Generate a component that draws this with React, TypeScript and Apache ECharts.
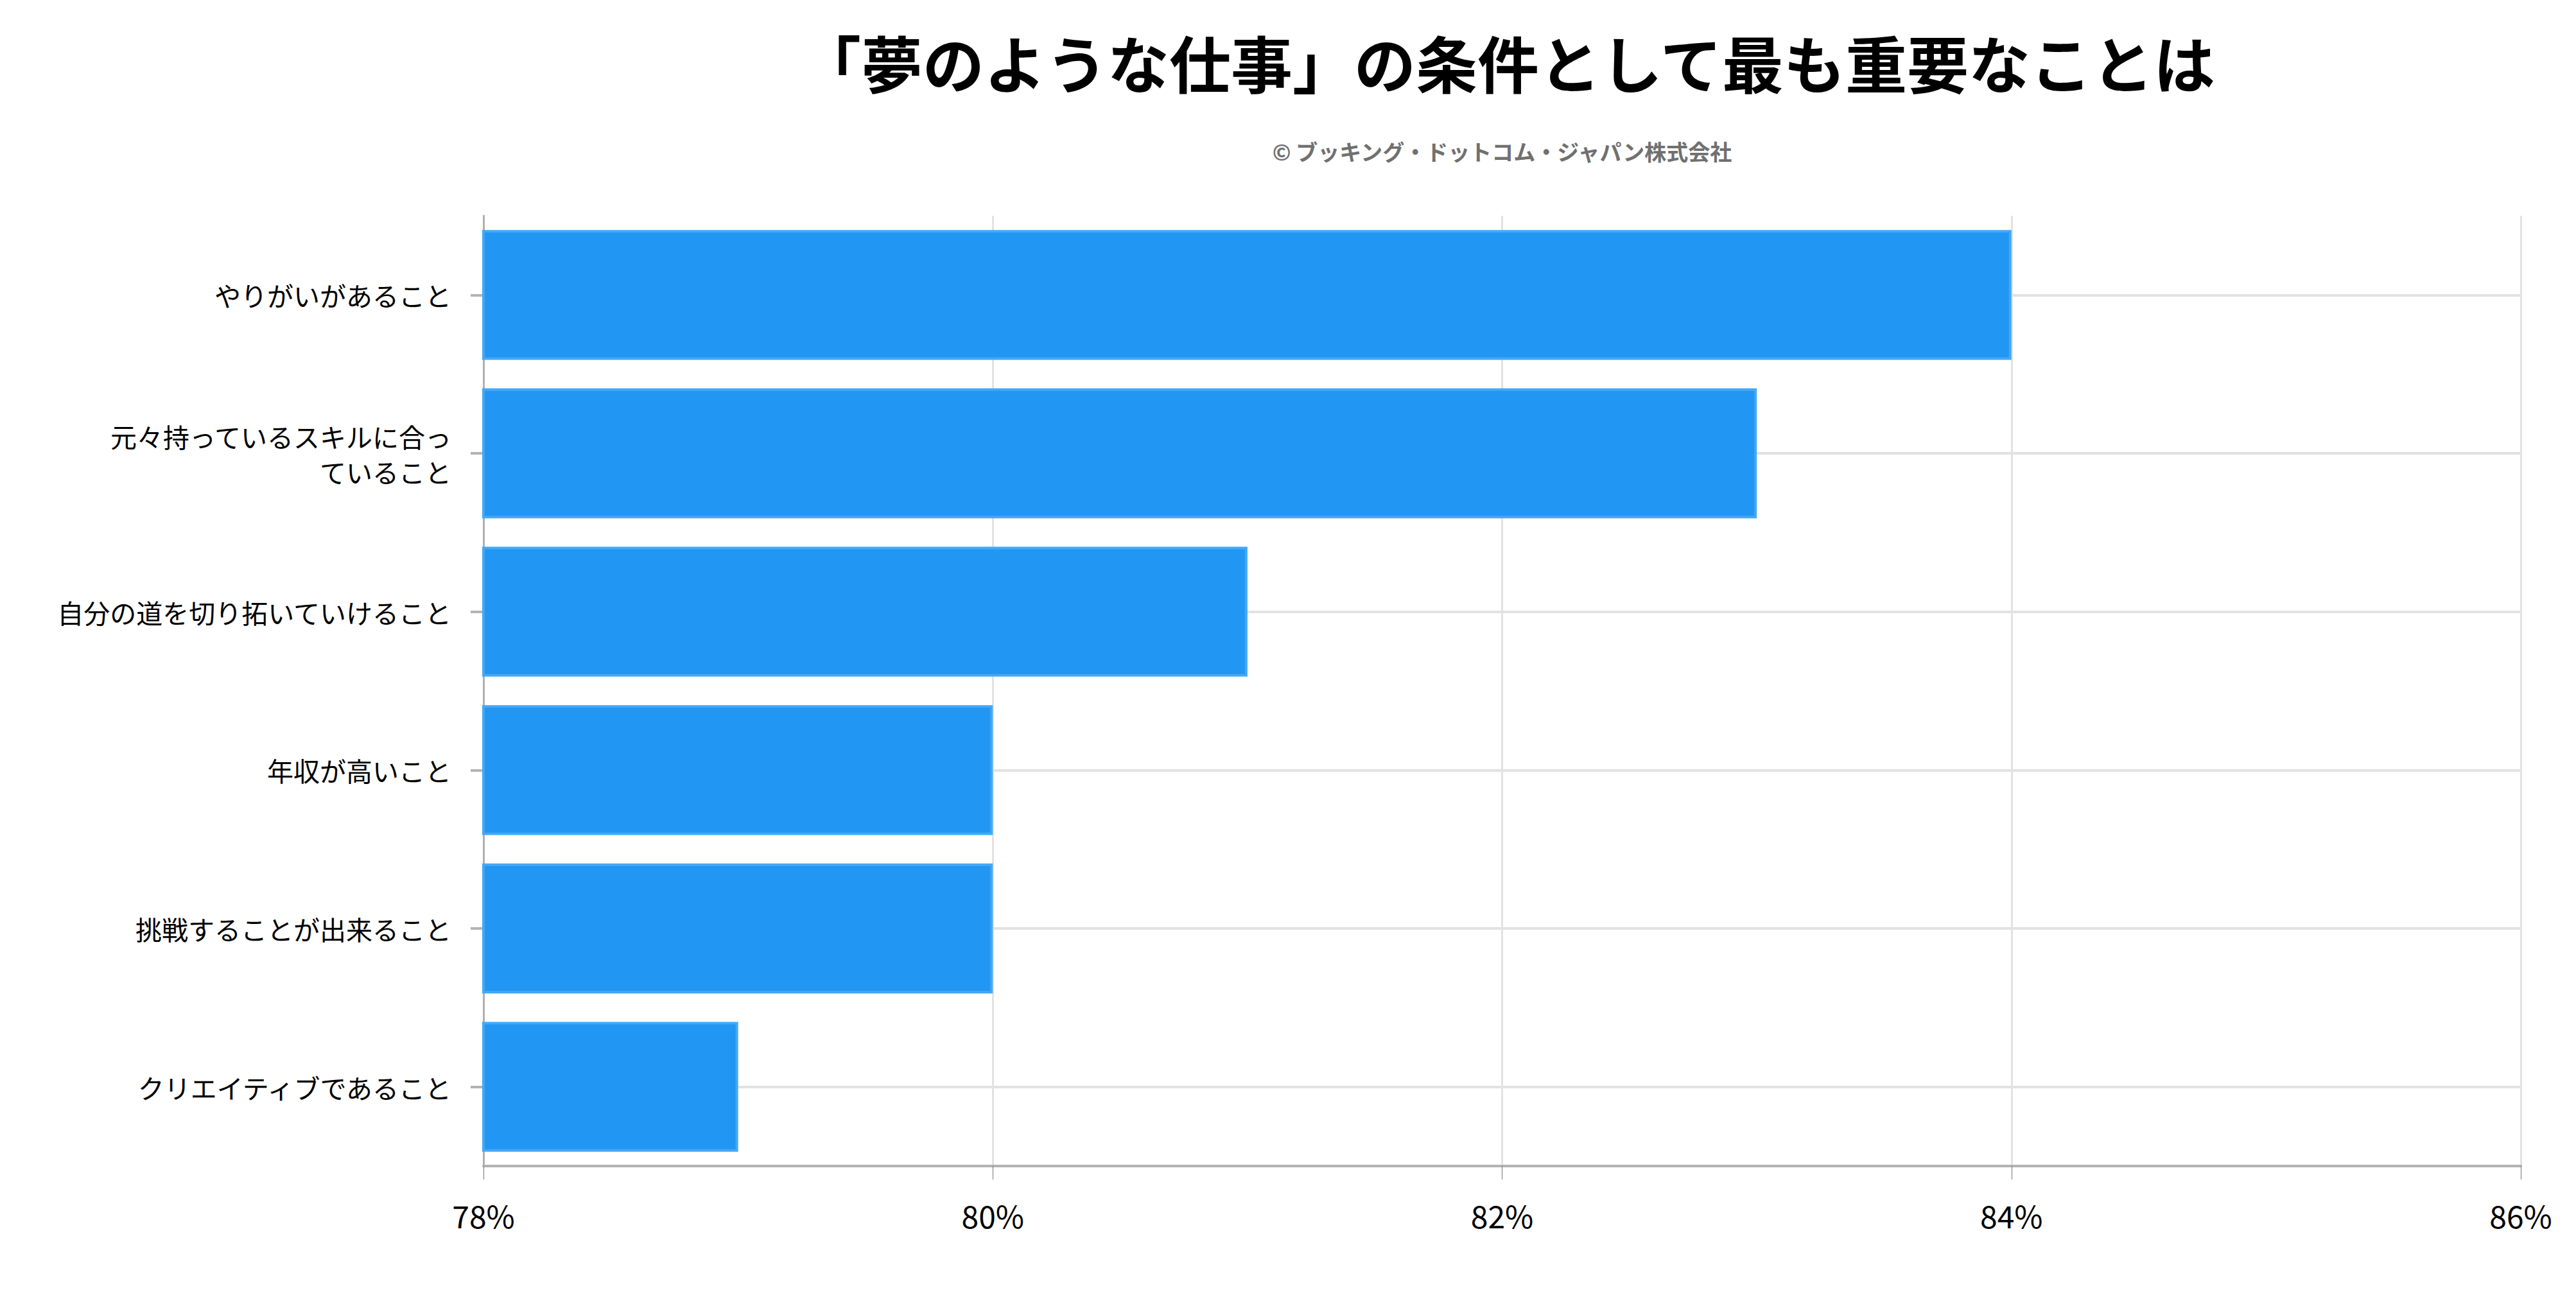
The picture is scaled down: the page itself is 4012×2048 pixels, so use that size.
import React, { useEffect, useRef } from "react";
import * as echarts from "echarts";

const TITLE = "「夢のような仕事」の条件として最も重要なことは";
const SUBTITLE = "© ブッキング・ドットコム・ジャパン株式会社";
const categories = [
  "やりがいがあること",
  "元々持っているスキルに合っ\nていること",
  "自分の道を切り拓いていけること",
  "年収が高いこと",
  "挑戦することが出来ること",
  "クリエイティブであること",
];
const values = [84, 83, 81, 80, 80, 79];
const X_MIN = 78;
const X_MAX = 86;
const X_STEP = 2;

const FONT = '"Noto Sans CJK JP", "Noto Sans", sans-serif';

export default function App() {
  const ref = useRef<HTMLDivElement>(null);
  useEffect(() => {
    if (!ref.current) return;
    const chart = echarts.init(ref.current, undefined, { renderer: "svg" });
    const gridLeft = 753;
    const gridRight = 86;
    const centerX = gridLeft + (4012 - gridLeft - gridRight) / 2;
    chart.setOption({
      animation: false,
      backgroundColor: "#ffffff",
      textStyle: { fontFamily: FONT },
      graphic: [
        {
          type: "text",
          x: centerX + 8,
          y: 95,
          style: {
            text: TITLE,
            fontSize: 96,
            fontWeight: "bold",
            fontFamily: FONT,
            fill: "#000000",
            textAlign: "center",
            textVerticalAlign: "middle",
          },
        },
        {
          type: "text",
          x: centerX,
          y: 235,
          style: {
            text: SUBTITLE,
            fontSize: 34,
            fontWeight: "bold",
            fontFamily: FONT,
            fill: "#707070",
            textAlign: "center",
            textVerticalAlign: "middle",
          },
        },
      ],
      grid: { left: gridLeft, right: gridRight, top: 336, bottom: 232, containLabel: false },
      xAxis: {
        type: "value",
        min: X_MIN,
        max: X_MAX,
        interval: X_STEP,
        axisLine: { show: true, lineStyle: { color: "#b3b3b3", width: 4 } },
        axisTick: { show: true, length: 21, lineStyle: { color: "#777777", width: 1 } },
        axisLabel: {
          formatter: (v: number) => `${v}%`,
          fontSize: 48,
          color: "#000000",
          margin: 52,
          fontFamily: FONT,
        },
        splitLine: { show: true, lineStyle: { color: "#e2e2e2", width: 3 } },
      },
      yAxis: {
        type: "category",
        data: categories,
        inverse: true,
        axisLine: { show: true, onZero: false, lineStyle: { color: "#b0b0b0", width: 3 } },
        axisTick: { show: true, alignWithLabel: true, length: 20, lineStyle: { color: "#b3b3b3", width: 4 } },
        axisLabel: {
          fontSize: 41,
          lineHeight: 55,
          color: "#000000",
          margin: 50,
          fontFamily: FONT,
        },
        splitLine: { show: true, alignWithLabel: true, lineStyle: { color: "#e2e2e2", width: 4 } },
      },
      series: [
        {
          type: "bar",
          data: values,
          barCategoryGap: "18%",
          itemStyle: { color: "#2196F3", borderColor: "#44a8f6", borderWidth: 4 },
        },
      ],
    });
    return () => chart.dispose();
  }, []);
  return (
    <div
      ref={ref}
      style={{ position: "fixed", left: 0, top: 0, width: 4012, height: 2048 }}
    />
  );
}
